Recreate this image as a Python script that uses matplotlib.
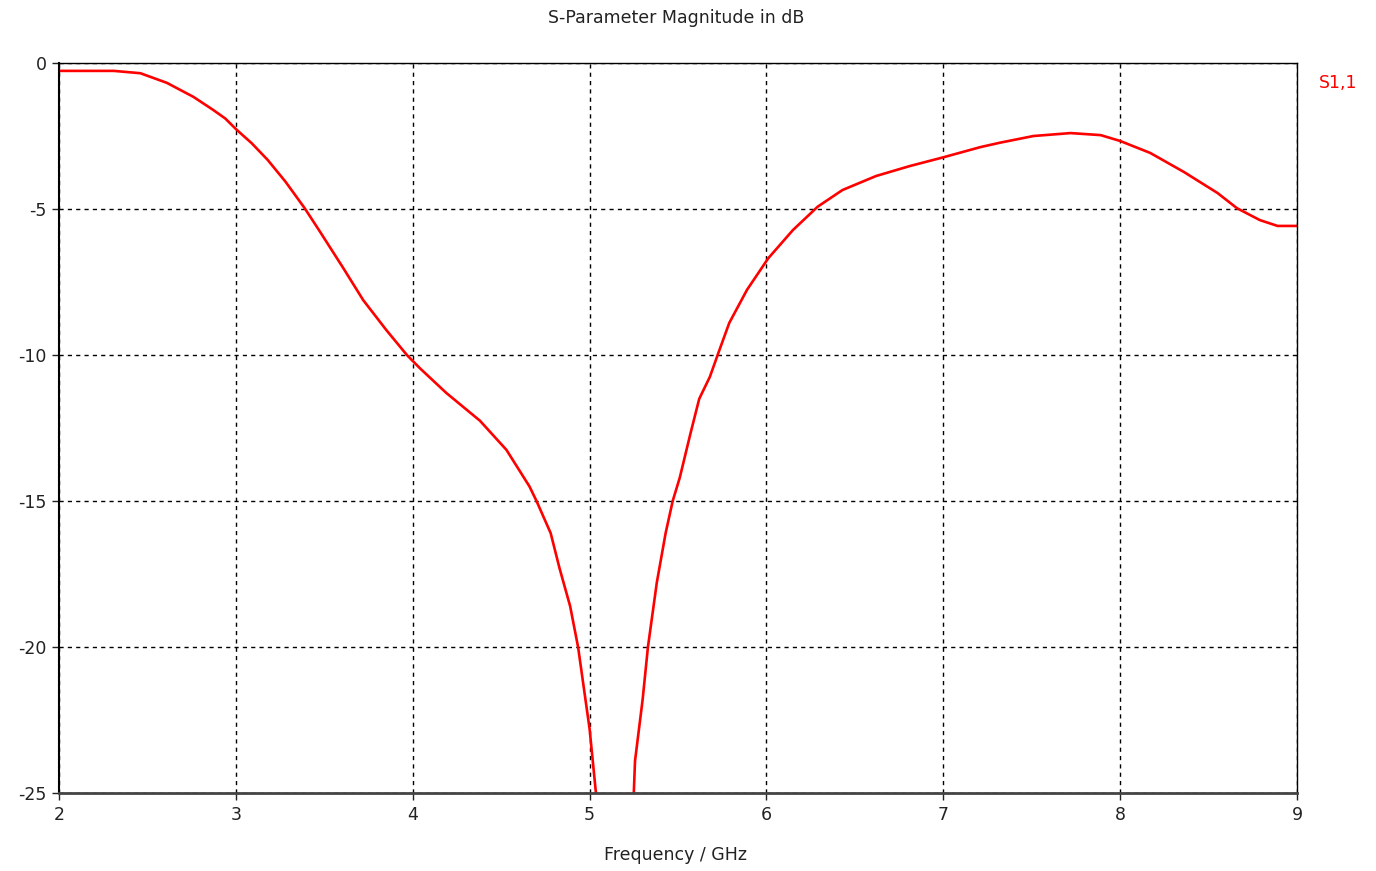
import numpy as np
import matplotlib
matplotlib.use("Agg")
import matplotlib.pyplot as plt

# curva S11 (GHz, dB)
freq = [2.0, 2.31, 2.46, 2.61, 2.76, 2.87, 2.94, 3.005, 3.09, 3.18, 3.28,
        3.39, 3.476, 3.608, 3.72, 3.85, 3.967, 4.04, 4.19, 4.38, 4.53, 4.66,
        4.70, 4.78, 4.83, 4.89, 4.935, 5.0, 5.036, 5.15, 5.25, 5.257, 5.30,
        5.33, 5.38, 5.43, 5.47, 5.51, 5.57, 5.62, 5.68, 5.73, 5.79, 5.89,
        6.01, 6.15, 6.29, 6.43, 6.62, 6.81, 7.0, 7.21, 7.32, 7.51, 7.72,
        7.89, 8.0, 8.17, 8.36, 8.55, 8.66, 8.79, 8.89, 9.0]
s11 = [-0.27, -0.27, -0.35, -0.68, -1.16, -1.6, -1.9, -2.29, -2.75, -3.32,
       -4.06, -4.98, -5.78, -7.03, -8.12, -9.14, -10.0, -10.45, -11.3, -12.25,
       -13.25, -14.5, -15.0, -16.1, -17.3, -18.6, -20.0, -22.8, -25.0, -33.0,
       -25.0, -23.9, -21.8, -20.0, -17.8, -16.1, -15.0, -14.2, -12.7, -11.5,
       -10.75, -9.9, -8.9, -7.77, -6.69, -5.72, -4.92, -4.35, -3.87, -3.53,
       -3.23, -2.88, -2.73, -2.5, -2.4, -2.47, -2.67, -3.08, -3.73, -4.45,
       -4.97, -5.38, -5.58, -5.58]

xticks = [2, 3, 4, 5, 6, 7, 8, 9]
yticks = [0, -5, -10, -15, -20, -25]

plt.rcParams['font.family'] = ['DejaVu Sans']
fig = plt.figure(figsize=(13.76, 8.71), dpi=100)
ax = fig.add_axes([59/1376, 1-793/871, (1297-59)/1376, (793-63)/871])

ax.plot(freq, s11, color='#ff0000', lw=1.9)
ax.set_xlim(2, 9)
ax.set_ylim(-25, 0)
ax.set_xticks(xticks)
ax.set_yticks(yticks)
ax.set_yticklabels([str(v) for v in yticks])
ax.grid(True, color='black', ls=(0, (3, 3)), lw=1.0)
ax.tick_params(direction='out', length=5, width=1, labelsize=12.5, colors='#222222', pad=4)

for s in ['left', 'top', 'right']:
    ax.spines[s].set_color('black')
    ax.spines[s].set_linewidth(1.0)
ax.spines['left'].set_linewidth(1.5)
ax.spines['bottom'].set_color('#444444')
ax.spines['bottom'].set_linewidth(2.0)

fig.text(676/1376, 1-18/871, "S-Parameter Magnitude in dB", ha='center', va='center',
         fontsize=12.5, color='#222222')
fig.text(676/1376, 1-855/871, "Frequency / GHz", ha='center', va='center',
         fontsize=12.5, color='#222222')
fig.text(1338/1376, 1-83/871, "S1,1", ha='center', va='center',
         fontsize=12.5, color='#ff0000')

plt.savefig("out.png", dpi=100)
